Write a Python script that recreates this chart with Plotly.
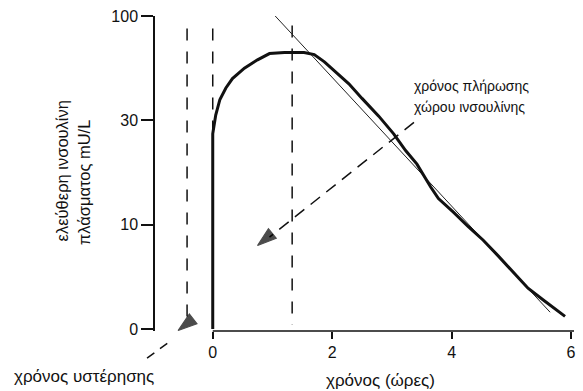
import plotly.graph_objects as go

# ---- data (y in display units: 0 -> 0, 1 -> 10, 2 -> 30, 3 -> 100 mU/L) ----
curve_t = [0, 0, 0.05, 0.12, 0.22, 0.33, 0.53, 0.75, 0.95, 1.2, 1.53, 1.70, 1.87,
           2.03, 2.28, 2.5, 2.78, 3.03, 3.23, 3.42, 3.53, 3.65, 3.78, 4.03, 4.28,
           4.53, 4.78, 5.03, 5.28, 5.53, 5.78, 5.9]
curve_y = [0, 1.87, 2.05, 2.20, 2.31, 2.40, 2.50, 2.58, 2.64, 2.65, 2.65, 2.63, 2.56,
           2.48, 2.35, 2.21, 2.04, 1.87, 1.71, 1.58, 1.47, 1.36, 1.25, 1.12, 0.98,
           0.85, 0.70, 0.55, 0.39, 0.28, 0.17, 0.12]
tangent_t = [1.03, 5.65]
tangent_y = [3.01, 0.16]
lag_t = -0.43          # dashed line marking lag time start
start_t = 0.0          # dashed line at time 0
fill_t = 1.33          # dashed line marking space-filling time
x_ticks = [0, 2, 4, 6]
y_tickvals = [0, 1, 2, 3]
y_ticktext = ["0", "10", "30", "100"]

FONT = "Liberation Sans, Arial, sans-serif"
INK = "#111111"
DASH = "12px,11px"

fig = go.Figure()

# dashed vertical guides
for xv, ytop, ybot in [(lag_t, 2.88, 0.07), (start_t, 2.88, 0.0), (fill_t, 2.91, 0.04)]:
    fig.add_trace(go.Scatter(x=[xv, xv], y=[ytop, ybot], mode="lines",
                             line=dict(color=INK, width=1.5, dash=DASH), hoverinfo="skip"))
# dashed pointer line for space-filling label
fig.add_trace(go.Scatter(x=[3.37, 0.95], y=[1.98, 0.88], mode="lines",
                         line=dict(color=INK, width=1.5, dash="12px,8px"), hoverinfo="skip"))
# thin tangent line
fig.add_trace(go.Scatter(x=tangent_t, y=tangent_y, mode="lines",
                         line=dict(color="#222222", width=1), hoverinfo="skip"))
# main curve
fig.add_trace(go.Scatter(x=curve_t, y=curve_y, mode="lines",
                         line=dict(color=INK, width=3), hoverinfo="skip"))
# arrowheads (oriented along their segment)
arrow_marker = dict(symbol="arrow", angleref="previous", size=[0, 20],
                    color="black", line=dict(width=1.2, color="black"))
fig.add_trace(go.Scatter(x=[1.03, 0.75], y=[0.93, 0.80], mode="markers", cliponaxis=False,
                         marker=arrow_marker, hoverinfo="skip"))
fig.add_trace(go.Scatter(x=[-0.30, -0.58], y=[0.11, -0.015], mode="markers", cliponaxis=False,
                         marker=arrow_marker, hoverinfo="skip"))

shapes = [
    # x-axis line from 0 to 6
    dict(type="line", xref="x", yref="paper", x0=0, x1=6.05, y0=0, y1=0,
         line=dict(color=INK, width=1.5)),
    # dashed pointer for lag-time label (below plot area)
    dict(type="line", xref="paper", yref="paper", x0=-0.019, y0=-0.086, x1=0.040, y1=-0.029,
         line=dict(color=INK, width=1.5, dash="9px,7px")),
]

small = dict(size=14, color=INK, family=FONT)
big = dict(size=17, color=INK, family=FONT)
ytf = dict(size=16.5, color=INK, family=FONT)
annotations = [
    dict(x=3.33, y=2.33, xref="x", yref="y", text="χρόνος πλήρωσης", showarrow=False,
         xanchor="left", yanchor="middle", font=small),
    dict(x=3.33, y=2.13, xref="x", yref="y", text="χώρου ινσουλίνης", showarrow=False,
         xanchor="left", yanchor="middle", font=small),
    dict(x=-0.169, y=-0.146, xref="paper", yref="paper", text="χρόνος υστέρησης",
         showarrow=False, xanchor="center", yanchor="middle", font=big),
    dict(x=0.539, y=-0.156, xref="paper", yref="paper", text="χρόνος (ώρες)",
         showarrow=False, xanchor="center", yanchor="middle", font=big),
    dict(x=-0.221, y=0.508, xref="paper", yref="paper", text="ελεύθερη ινσουλίνη",
         showarrow=False, textangle=-90, xanchor="center", yanchor="middle", font=ytf),
    dict(x=-0.169, y=0.473, xref="paper", yref="paper", text="πλάσματος mU/L",
         showarrow=False, textangle=-90, xanchor="center", yanchor="middle", font=ytf),
]

tickf = dict(size=16, color=INK, family=FONT)
fig.update_layout(
    width=583, height=391, autosize=False,
    margin=dict(l=155, r=7, t=16, b=60),
    paper_bgcolor="white", plot_bgcolor="white",
    showlegend=False,
    shapes=shapes, annotations=annotations,
    font=dict(family=FONT, size=14, color=INK),
    xaxis=dict(range=[-0.967, 6.05], tickvals=x_ticks, ticks="outside", ticklen=7,
               tickwidth=1.5, tickcolor=INK, showline=False, showgrid=False,
               zeroline=False, tickfont=tickf),
    yaxis=dict(range=[-0.02, 3.0], tickvals=y_tickvals, ticktext=y_ticktext,
               ticks="outside", ticklen=12, tickwidth=1.5, tickcolor=INK,
               showline=True, linewidth=1.5, linecolor=INK, showgrid=False,
               zeroline=False, tickfont=tickf),
)

fig.write_html("out.html", config={"displayModeBar": False},
               post_script="document.body.style.margin='0px';")
